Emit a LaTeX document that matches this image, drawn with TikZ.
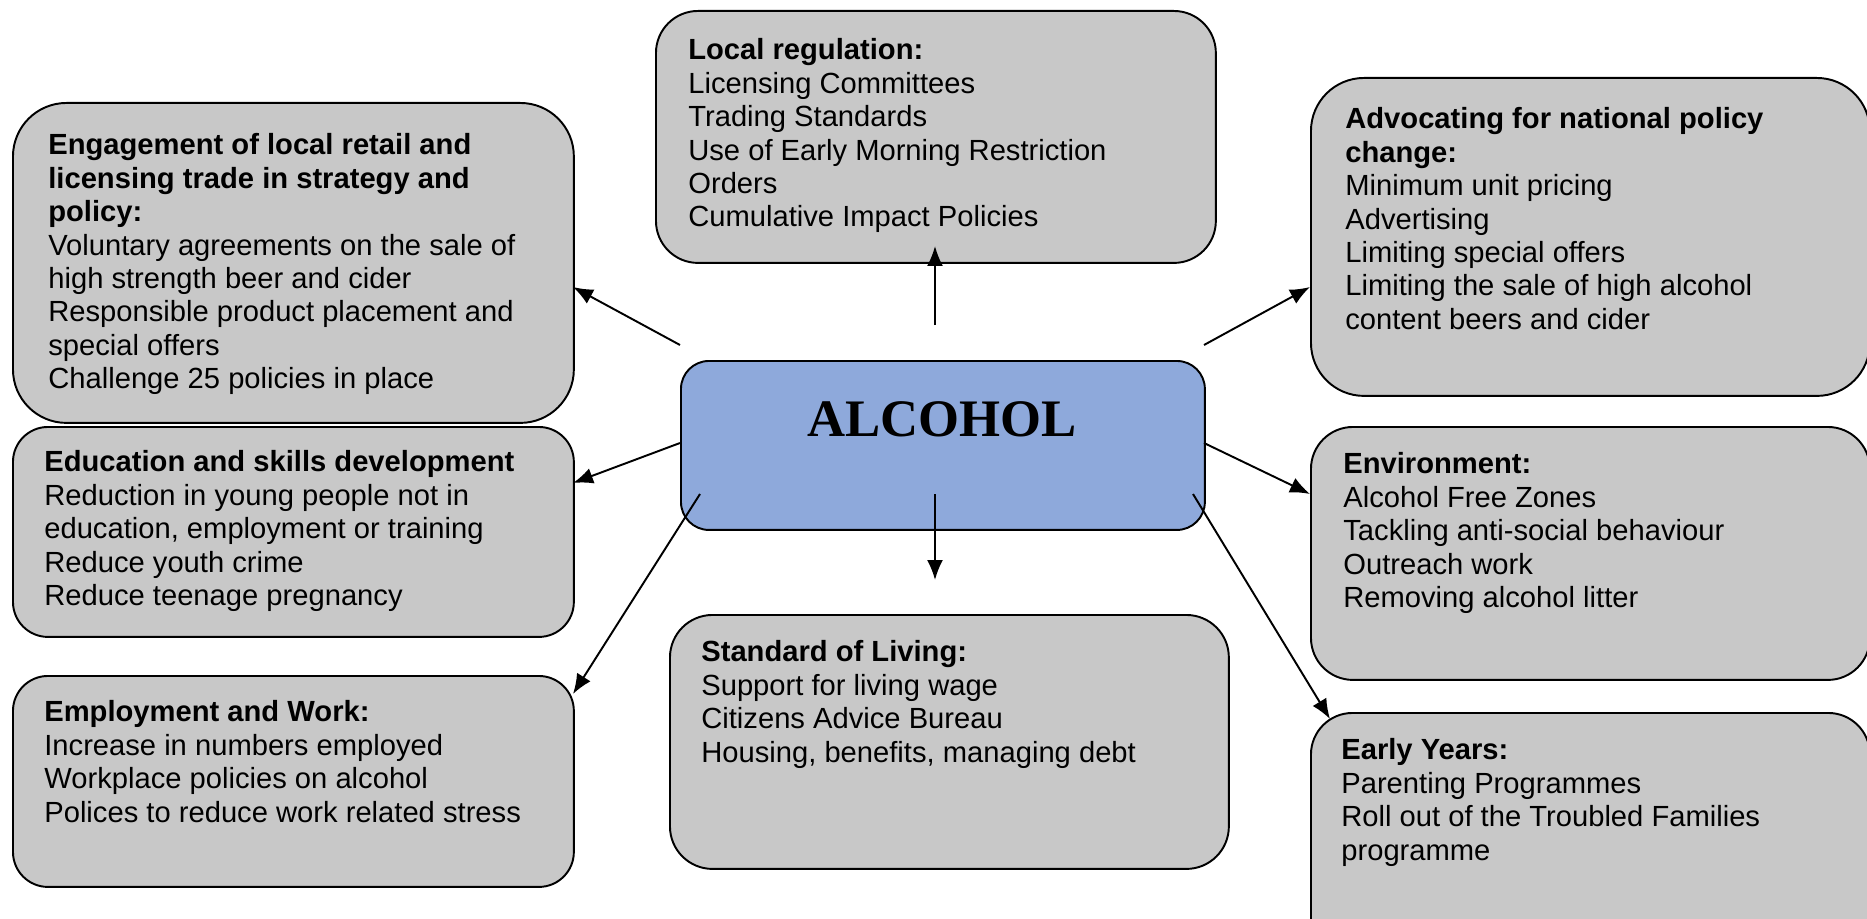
\documentclass[tikz,border=0pt]{standalone}
\usepackage{fontspec}
\setmainfont{Liberation Sans}
\newfontfamily\alcfont{Liberation Serif}
\usetikzlibrary{arrows.meta}
\usetikzlibrary{positioning}
\definecolor{boxgrey}{RGB}{200,200,200}
\definecolor{alcblue}{RGB}{142,169,219}

\begin{document}
\begin{tikzpicture}[x=0.02cm,y=-0.02cm]
\tikzset{>={Latex[width=3.2mm,length=4mm]}}
\tikzstyle{panel} =[draw=black, line width=1.1pt, fill=boxgrey, anchor=north west, inner sep=0pt]
\tikzstyle{paneltext} =[anchor=north west, inner sep=0pt, align=left, font=\fontsize{16.6}{19}\selectfont]
\tikzstyle{link} =[->, line width=1.1pt]

\useasboundingbox (0,0) rectangle (1867,919);
\clip (0,0) rectangle (1867,919);

\node[panel, rounded corners=0.84cm, minimum width=11.2cm, minimum height=5.04cm](reg) at (655,10){};
\node[panel, rounded corners=1.07cm, minimum width=11.22cm, minimum height=6.4cm](eng) at (12,102){};
\node[panel, rounded corners=1.06cm, minimum width=11.18cm, minimum height=6.36cm](adv) at (1310,77){};
\node[panel, fill=alcblue, rounded corners=0.56cm, minimum width=10.48cm, minimum height=3.38cm](alc) at (680,360){};
\node[panel, rounded corners=0.7cm, minimum width=11.22cm, minimum height=4.2cm](edu) at (12,426){};
\node[panel, rounded corners=0.84cm, minimum width=11.18cm, minimum height=5.06cm](env) at (1310,426){};
\node[panel, rounded corners=0.7cm, minimum width=11.22cm, minimum height=4.22cm](emp) at (12,675){};
\node[panel, rounded corners=0.85cm, minimum width=11.18cm, minimum height=5.08cm](sol) at (669,614){};
\node[panel, rounded corners=0.83cm, minimum width=11.18cm, minimum height=5.0cm](early) at (1310,712){};

\node[paneltext, below right=0.57cm and 0.66cm of reg.north west](regtext){\textbf{Local regulation:}\\Licensing Committees\\Trading Standards\\Use of Early Morning Restriction\\Orders\\Cumulative Impact Policies};
\node[paneltext, below right=0.63cm and 0.72cm of eng.north west](engtext){\textbf{Engagement of local retail and}\\\textbf{licensing trade in strategy and}\\\textbf{policy:}\\Voluntary agreements on the sale of\\high strength beer and cider\\Responsible product placement and\\special offers\\Challenge 25 policies in place};
\node[paneltext, below right=0.61cm and 0.7cm of adv.north west](advtext){\textbf{Advocating for national policy}\\\textbf{change:}\\Minimum unit pricing\\Advertising\\Limiting special offers\\Limiting the sale of high alcohol\\content beers and cider};
\node[font=\alcfont\bfseries\fontsize{30}{36}\selectfont](alctext) at (942,419){ALCOHOL};
\node[paneltext, below right=0.49cm and 0.64cm of edu.north west](edutext){\textbf{Education and skills development}\\Reduction in young people not in\\education, employment or training\\Reduce youth crime\\Reduce teenage pregnancy};
\node[paneltext, below right=0.53cm and 0.66cm of env.north west](envtext){\textbf{Environment:}\\Alcohol Free Zones\\Tackling anti-social behaviour\\Outreach work\\Removing alcohol litter};
\node[paneltext, below right=0.51cm and 0.64cm of emp.north west](emptext){\textbf{Employment and Work:}\\Increase in numbers employed\\Workplace policies on alcohol\\Polices to reduce work related stress};
\node[paneltext, below right=0.53cm and 0.64cm of sol.north west](soltext){\textbf{Standard of Living:}\\Support for living wage\\Citizens Advice Bureau\\Housing, benefits, managing debt};
\node[paneltext, below right=0.53cm and 0.62cm of early.north west](earlytext){\textbf{Early Years:}\\Parenting Programmes\\Roll out of the Troubled Families\\programme};

\coordinate (regS) at (935,325);
\coordinate (regE) at (935,246);
\coordinate (engS) at (680,345);
\coordinate (engE) at (573,287);
\coordinate (advS) at (1204,345);
\coordinate (advE) at (1310,287);
\coordinate (eduS) at (680,443);
\coordinate (eduE) at (573,483);
\coordinate (envS) at (1204,443);
\coordinate (envE) at (1310,494);
\coordinate (empS) at (700,494);
\coordinate (empE) at (573,694);
\coordinate (solS) at (935,494);
\coordinate (solE) at (935,580);
\coordinate (earlyS) at (1193,494);
\coordinate (earlyE) at (1330,719);

\draw [link] (regS) to (regE);
\draw [link] (engS) to (engE);
\draw [link] (advS) to (advE);
\draw [link] (eduS) to (eduE);
\draw [link] (envS) to (envE);
\draw [link] (empS) to (empE);
\draw [link] (solS) to (solE);
\draw [link] (earlyS) to (earlyE);
\end{tikzpicture}
\end{document}
